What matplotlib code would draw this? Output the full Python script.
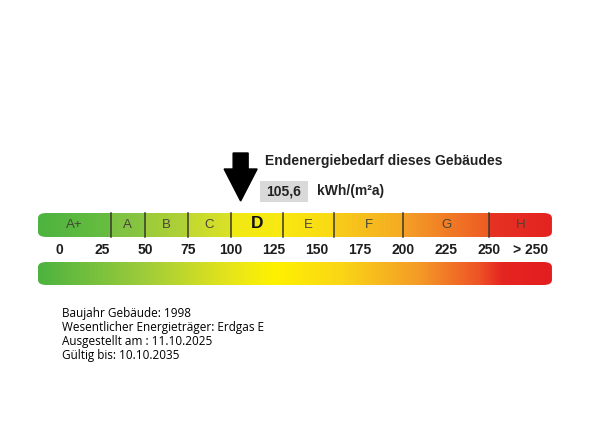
import numpy as np
import matplotlib
matplotlib.use("Agg")
import matplotlib.pyplot as plt
from matplotlib.patches import FancyBboxPatch, Polygon, Rectangle
from matplotlib.colors import LinearSegmentedColormap

# energy classes (kWh/(m²a))
class_labels = ['A+', 'A', 'B', 'C', 'D', 'E', 'F', 'G', 'H']
class_edges = [-12.2, 30, 50, 75, 100, 130, 160, 200, 250, 286.6]
class_colors = [('#4db33f', '#69bd40'), ('#7dc143', '#8ac640'), ('#9ccb3b', '#b2d236'),
                ('#c2d830', '#dbe128'), ('#f1e913', '#f8e911'), ('#fae712', '#f9d914'),
                ('#f8cd19', '#f5ab23'), ('#f4a027', '#ee5b24'), ('#e63324', '#e42320')]
tick_values = [0, 25, 50, 75, 100, 125, 150, 175, 200, 225, 250, 274]
tick_labels = ['0', '25', '50', '75', '100', '125', '150', '175', '200', '225', '250', '> 250']
grad_pos = [-12.2, 50, 100, 125, 165, 210, 245, 258, 286.6]
grad_cols = ['#4cb33f', '#9fcc3a', '#e7e51a', '#fff200', '#fad517', '#f49a27', '#ee5225', '#e52521', '#e31e20']

value = 105.6
value_txt = '105,6'
unit = 'kWh/(m²a)'
title = 'Endenergiebedarf dieses Gebäudes'
info_lines = ['Baujahr Gebäude: 1998',
              'Wesentlicher Energieträger: Erdgas E',
              'Ausgestellt am : 11.10.2025',
              'Gültig bis: 10.10.2035']

fig = plt.figure(figsize=(5.9, 4.4), dpi=100)
ax = fig.add_axes([0, 0, 1, 1])
px = 1 / 1.72  # value units per pixel
ax.set_xlim(-59 * px, (590 - 59) * px)
ax.set_ylim(440, 0)
ax.axis('off')

x0, x1 = class_edges[0], class_edges[-1]

# top bar with classes
top, bot = 213, 237
clip = FancyBboxPatch((x0, top), x1 - x0, bot - top,
                      boxstyle="round,pad=0,rounding_size=5", fc='none', ec='none')
ax.add_patch(clip)
for i, lab in enumerate(class_labels):
    a, b = class_edges[i], class_edges[i + 1]
    cm = LinearSegmentedColormap.from_list('c%d' % i, list(class_colors[i]))
    im = ax.imshow(np.linspace(0, 1, 64)[None, :], cmap=cm, aspect='auto',
                   extent=(a, b, bot, top), interpolation='bilinear', zorder=1)
    im.set_clip_path(clip)
    if lab == 'D':
        ax.text((a + b) / 2, (top + bot) / 2 - 1, lab, ha='center', va='center',
                fontsize=12.5, fontweight='bold', color='#111111',
                family='Liberation Sans', zorder=3)
    else:
        ax.text((a + b) / 2, (top + bot) / 2, lab, ha='center', va='center',
                fontsize=9.5, color='#46463a', family='Liberation Sans', zorder=3)
for e in class_edges[1:-1]:
    ax.plot([e, e], [top, bot], color='#3a3a2a', lw=1.1, zorder=2)

# tick numbers
for v, t in zip(tick_values, tick_labels):
    ax.text(v, 250, t, ha='center', va='center', fontsize=10, fontweight='bold',
            color='#1e1e1e', family='Liberation Sans')

# bottom gradient bar
gtop, gbot = 262, 285
clip2 = FancyBboxPatch((x0, gtop), x1 - x0, gbot - gtop,
                       boxstyle="round,pad=0,rounding_size=5", fc='none', ec='none')
ax.add_patch(clip2)
gcm = LinearSegmentedColormap.from_list(
    'g', [((p - x0) / (x1 - x0), c) for p, c in zip(grad_pos, grad_cols)])
im = ax.imshow(np.linspace(0, 1, 512)[None, :], cmap=gcm, aspect='auto',
               extent=(x0, x1, gbot, gtop), interpolation='bilinear', zorder=1)
im.set_clip_path(clip2)

# arrow at value
sw, hw = 7.5 * px, 16.5 * px
arrow = Polygon([(value - sw, 153), (value + sw, 153), (value + sw, 169),
                 (value + hw, 169), (value, 201), (value - hw, 169),
                 (value - sw, 169)], closed=True, fc='black', ec='black', zorder=4)
ax.add_patch(arrow)

ax.text(value + 24 * px, 161, title, ha='left', va='center', fontsize=10,
        fontweight='bold', color='#222222', family='Liberation Sans')
ax.add_patch(Rectangle((value + 19 * px, 181), 48 * px, 21, fc='#d9d9d9', ec='none'))
ax.text(value + 43 * px, 191.5, value_txt, ha='center', va='center', fontsize=10,
        fontweight='bold', color='#222222', family='Liberation Sans')
ax.text(value + 76 * px, 191.5, unit, ha='left', va='center', fontsize=10,
        fontweight='bold', color='#222222', family='Liberation Sans')

# info text
for i, line in enumerate(info_lines):
    ax.text(-59 * px + 62 * px, 313 + 14 * i, line, ha='left', va='center',
            fontsize=8.5, color='black', family='Open Sans')

fig.savefig('out.png', dpi=100)
